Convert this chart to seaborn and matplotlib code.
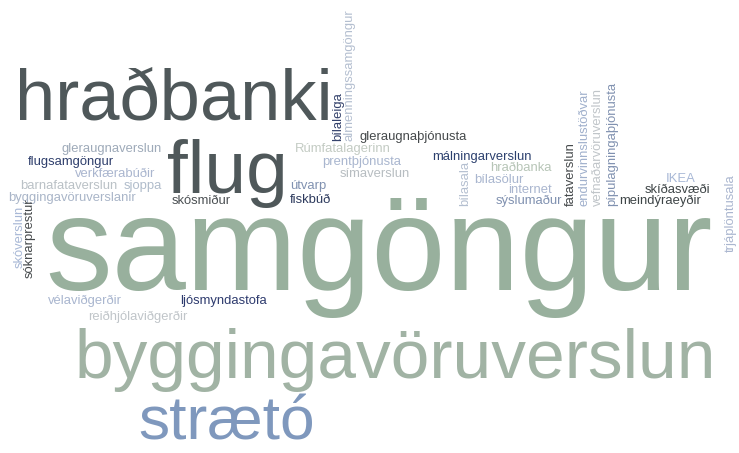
import matplotlib
matplotlib.use("Agg")
import matplotlib.pyplot as plt
import seaborn as sns

# word frequencies (font size in pt = SCALE * count)
words = ["samgöngur", "byggingavöruverslun", "hraðbanki", "flug", "strætó",
         "gleraugnaverslun", "flugsamgöngur", "verkfærabúðir", "barnafataverslun",
         "sjoppa", "byggingavöruverslanir", "skósmiður", "Rúmfatalagerinn",
         "gleraugnaþjónusta", "bílaleiga", "almenningssamgöngur", "prentþjónusta",
         "símaverslun", "útvarp", "fiskbúð", "málningarverslun", "hraðbanka",
         "bílasölur", "bílasala", "internet", "sýslumaður", "fataverslun",
         "endurvinnslustöðvar", "vefnaðarvöruverslun", "pípulagningaþjónusta",
         "IKEA", "skíðasvæði", "meindýraeyðir", "trjáplöntusala", "skóverslun",
         "sóknarprestur", "vélaviðgerðir", "ljósmyndastofa", "reiðhjólaviðgerðir"]
counts = [24, 12.5, 13, 13.5, 11.2,
          2.35, 2.35, 2.35, 2.35,
          2.35, 2.35, 2.35, 2.35,
          2.35, 2.35, 2.35, 2.35,
          2.35, 2.35, 2.35, 2.35, 2.35,
          2.35, 2.35, 2.35, 2.35, 2.35,
          2.35, 2.35, 2.35,
          2.35, 2.35, 2.35, 2.35, 2.35,
          2.35, 2.35, 2.35, 2.35]

SCALE = 4.0

# layout: x, y (pixels from top-left), rotation, colour
layout = {
    "samgöngur": (45, 290, 0, "#98b09d"),
    "byggingavöruverslun": (75, 378, 0, "#a1b3a4"),
    "hraðbanki": (15, 120, 0, "#4f585a"),
    "flug": (167, 193, 0, "#4f585a"),
    "strætó": (138, 440, 0, "#7f98bd"),
    "gleraugnaverslun": (62, 152, 0, "#9eaab9"),
    "flugsamgöngur": (28, 165, 0, "#2f3f6c"),
    "verkfærabúðir": (75, 177, 0, "#aab6cf"),
    "barnafataverslun": (20, 189, 0, "#bac1c6"),
    "sjoppa": (124, 189, 0, "#b0bccb"),
    "byggingavöruverslanir": (8, 201, 0, "#a9b5c8"),
    "skósmiður": (172, 204, 0, "#4b5053"),
    "Rúmfatalagerinn": (295, 152, 0, "#c3cbc3"),
    "gleraugnaþjónusta": (360, 140, 0, "#45494b"),
    "bílaleiga": (338, 141, 90, "#33416b"),
    "almenningssamgöngur": (350, 141, 90, "#b4bfd0"),
    "prentþjónusta": (322, 165, 0, "#a9b6cf"),
    "símaverslun": (340, 177, 0, "#b7bdc1"),
    "útvarp": (290, 189, 0, "#8091b0"),
    "fiskbúð": (290, 203, 0, "#2e3b5e"),
    "málningarverslun": (432, 160, 0, "#2c406e"),
    "hraðbanka": (490, 171, 0, "#b7c5b7"),
    "bílasölur": (474, 183, 0, "#a9b6cf"),
    "bílasala": (465, 206, 90, "#b4bfd0"),
    "internet": (508, 193, 0, "#aab6cf"),
    "sýslumaður": (496, 204, 0, "#8091b0"),
    "fataverslun": (571, 206, 90, "#45494b"),
    "endurvinnslustöðvar": (585, 206, 90, "#a0b0cc"),
    "vefnaðarvöruverslun": (598, 206, 90, "#c0c5c9"),
    "pípulagningaþjónusta": (612, 206, 90, "#8091b0"),
    "IKEA": (666, 182, 0, "#a8b8d6"),
    "skíðasvæði": (645, 193, 0, "#3e4547"),
    "meindýraeyðir": (619, 204, 0, "#3e4547"),
    "trjáplöntusala": (731, 252, 90, "#aab6cf"),
    "skóverslun": (20, 268, 90, "#a8b8d6"),
    "sóknarprestur": (30, 278, 90, "#45494b"),
    "vélaviðgerðir": (48, 304, 0, "#a9b6cf"),
    "ljósmyndastofa": (180, 304, 0, "#2e3b6e"),
    "reiðhjólaviðgerðir": (88, 320, 0, "#c0c5c9"),
}

sns.set_theme(style="white")
plt.rcParams["font.family"] = ["Liberation Sans", "DejaVu Sans"]

fig = plt.figure(figsize=(7.39, 4.53), dpi=100)
ax = fig.add_axes([0, 0, 1, 1])
ax.set_xlim(0, 739)
ax.set_ylim(453, 0)
ax.axis("off")

for w, c in zip(words, counts):
    x, y, rot, col = layout[w]
    if rot:
        ax.text(x, y, w, fontsize=SCALE * c, color=col, rotation=rot,
                ha="center", va="bottom")
    else:
        ax.text(x, y, w, fontsize=SCALE * c, color=col,
                ha="left", va="baseline")

fig.savefig("out.png", dpi=100, facecolor="white")
